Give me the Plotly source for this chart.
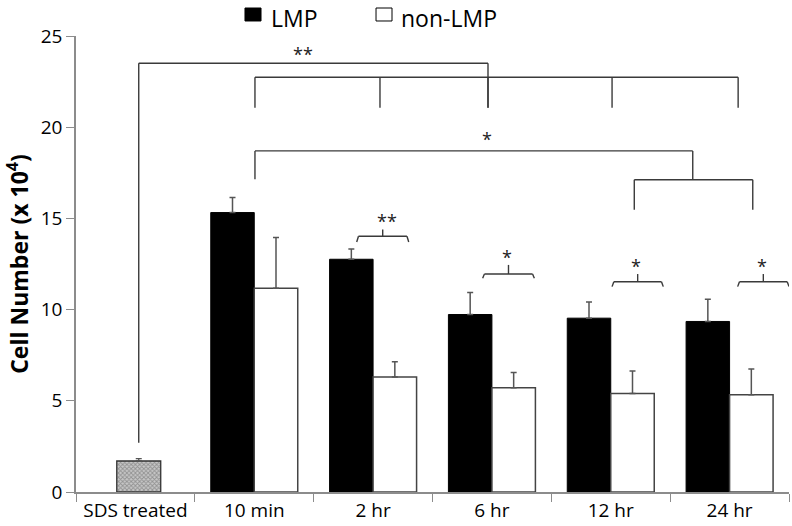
import plotly.graph_objects as go

# ---- data ----
sds_category = ["SDS treated"]
sds_value = [1.70]
sds_error = [0.13]

time_points = ["10 min", "2 hr", "6 hr", "12 hr", "24 hr"]
lmp_values = [15.32, 12.76, 9.73, 9.53, 9.35]
lmp_errors = [0.82, 0.56, 1.21, 0.89, 1.22]
non_lmp_values = [11.17, 6.30, 5.71, 5.40, 5.33]
non_lmp_errors = [2.78, 0.84, 0.84, 1.23, 1.41]

y_tick_values = [0, 5, 10, 15, 20, 25]
legend_labels = ["LMP", "non-LMP"]

# ---- significance annotations (category-index x, data y) ----
big_brackets = [
    [(0.028, 2.70), (0.028, 23.51), (2.967, 23.51), (2.967, 21.07)],
    [(1.006, 17.14), (1.006, 18.70), (4.690, 18.70), (4.690, 17.12)],
    [(4.198, 15.48), (4.198, 17.12), (5.195, 17.12), (5.195, 15.48)],
]
comb_y = (22.74, 21.07)
comb_legs = [1.006, 2.058, 2.967, 4.011, 5.072]
big_labels = [("**", 1.41, 24.25), ("*", 2.959, 19.55)]

# braces: (x0, x1, y_line, y_end, y_tick, label, label_x, label_y)
braces = [
    (1.862, 2.300, 14.02, 13.71, 14.39, "**", 2.115, 15.06),
    (2.922, 3.357, 11.95, 11.72, 12.45, "*", 3.127, 13.09),
    (4.011, 4.442, 11.53, 11.26, 11.95, "*", 4.212, 12.60),
    (5.068, 5.500, 11.53, 11.26, 11.95, "*", 5.273, 12.60),
]

FONT = "Open Sans"
LINE_COL = "#3a3a3a"
AXIS_COL = "#8c8c8c"
BAR_W = 0.366

fig = go.Figure()

fig.add_trace(go.Bar(
    x=sds_category, y=sds_value, name="SDS treated", showlegend=False,
    width=BAR_W + 0.004, offset=-0.157,
    marker=dict(color="#c4c4c4", line=dict(color="#333333", width=1.3),
                pattern=dict(shape="x", size=3, solidity=0.5,
                             fgcolor="#5a5a5a", bgcolor="#c8c8c8")),
    error_y=dict(type="data", array=sds_error, arrayminus=[0] * len(sds_error),
                 symmetric=False, color="#555555", thickness=1.3, width=3),
))

fig.add_trace(go.Bar(
    x=time_points, y=lmp_values, name=legend_labels[0], showlegend=False,
    width=BAR_W, offset=-BAR_W,
    marker=dict(color="black", line=dict(color="black", width=1)),
    error_y=dict(type="data", array=lmp_errors, arrayminus=[0] * len(lmp_errors),
                 symmetric=False, color="#555555", thickness=1.5, width=3),
))

fig.add_trace(go.Bar(
    x=time_points, y=non_lmp_values, name=legend_labels[1], showlegend=False,
    width=BAR_W, offset=0,
    marker=dict(color="white", line=dict(color="#444444", width=1.5)),
    error_y=dict(type="data", array=non_lmp_errors, arrayminus=[0] * len(non_lmp_errors),
                 symmetric=False, color="#555555", thickness=1.5, width=3),
))

shapes = []
def seg(x0, y0, x1, y1):
    shapes.append(dict(type="line", xref="x", yref="y", x0=x0, y0=y0, x1=x1, y1=y1,
                       line=dict(color=LINE_COL, width=1.4)))

for pts in big_brackets:
    for (a, b) in zip(pts[:-1], pts[1:]):
        seg(a[0], a[1], b[0], b[1])
seg(comb_legs[0], comb_y[0], comb_legs[-1], comb_y[0])
for lx in comb_legs:
    seg(lx, comb_y[0], lx, comb_y[1])

STAR_FONT = dict(family=FONT, size=18, color="#222222")
annotations = []
for txt, ax_, ay_ in big_labels:
    annotations.append(dict(x=ax_, y=ay_, xref="x", yref="y", text=txt, showarrow=False,
                            font=STAR_FONT, yanchor="middle", yshift=-4))
for (x0, x1, yl, ye, yt, lab, lx, ly) in braces:
    xm = (x0 + x1) / 2
    seg(x0, ye, x0 + 0.015, yl)
    seg(x0 + 0.015, yl, x1 - 0.015, yl)
    seg(x1 - 0.015, yl, x1, ye)
    seg(xm, yl, xm, yt)
    annotations.append(dict(x=lx, y=ly, xref="x", yref="y", text=lab, showarrow=False,
                            font=STAR_FONT, yanchor="middle", yshift=-4))

# ---- manual legend at the top (paper coords) ----
legend_fill = ["black", "white"]
legend_box_x = [(0.2370, 0.2595), (0.4208, 0.4432)]
legend_text_x = [0.2721, 0.4544]
for lab, fill, (bx0, bx1), tx in zip(legend_labels, legend_fill, legend_box_x, legend_text_x):
    shapes.append(dict(type="rect", xref="paper", yref="paper", x0=bx0, x1=bx1,
                       y0=1.0329, y1=1.0614, fillcolor=fill,
                       line=dict(color="black", width=1)))
    annotations.append(dict(x=tx, y=1.0789, xref="paper", yref="paper", text=lab,
                            showarrow=False, xanchor="left", yanchor="top", borderpad=0,
                            yshift=-1, font=dict(family=FONT, size=23, color="black")))

fig.update_layout(
    width=792, height=526,
    margin=dict(l=76, r=3, t=36, b=34),
    paper_bgcolor="white", plot_bgcolor="white",
    barmode="overlay", showlegend=False,
    font=dict(family=FONT, size=19, color="black"),
    shapes=shapes, annotations=annotations,
    xaxis=dict(type="category", categoryorder="array",
               categoryarray=sds_category + time_points,
               range=[-0.5, 5.5], showline=True, linecolor=AXIS_COL, linewidth=1.5,
               ticks="outside", tickson="boundaries", ticklen=8, tickcolor=AXIS_COL,
               tickwidth=1.2, showgrid=False, zeroline=False,
               tickfont=dict(family=FONT, size=19, color="black")),
    yaxis=dict(range=[0, 25], tickvals=y_tick_values, showline=True, linecolor=AXIS_COL,
               linewidth=1.5, ticks="outside", ticklen=8, tickcolor=AXIS_COL, tickwidth=1.2,
               showgrid=False, zeroline=False,
               tickfont=dict(family=FONT, size=19, color="black"),
               title=dict(text="<b>Cell Number (x 10<sup>4</sup>)</b>", standoff=6,
                          font=dict(family=FONT, size=23, color="black"))),
)

fig.write_html(
    "out.html",
    config={"displayModeBar": False},
    post_script="document.body.style.margin='0';document.body.style.overflow='hidden';",
)
